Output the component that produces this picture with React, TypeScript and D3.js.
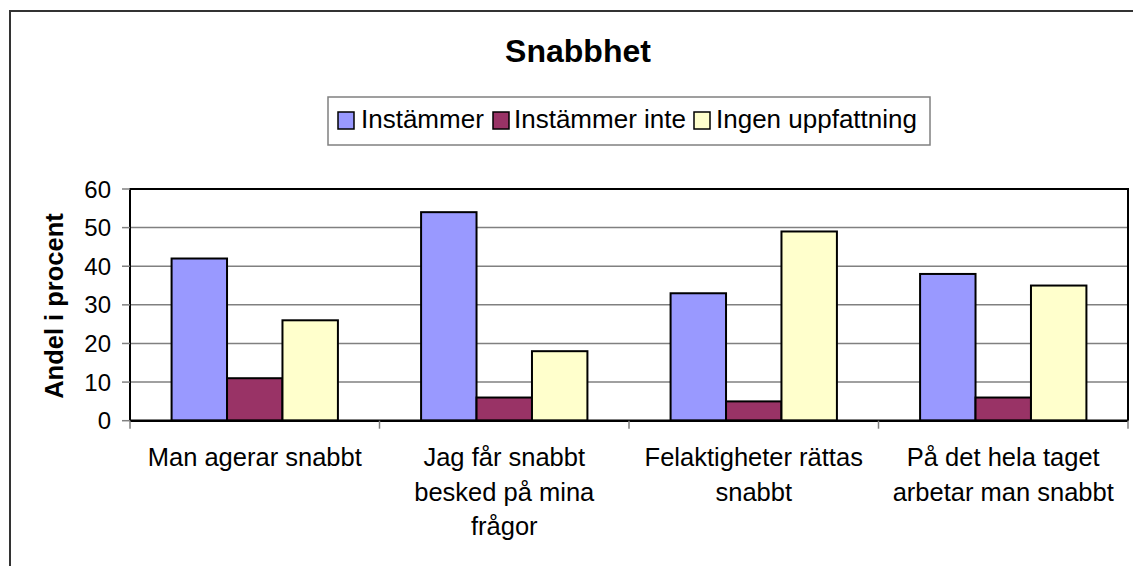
import React from 'react'
import * as d3 from 'd3'

const categories = [
  'Man agerar snabbt',
  'Jag får snabbt besked på mina frågor',
  'Felaktigheter rättas snabbt',
  'På det hela taget arbetar man snabbt',
]
// how the category labels wrap in the original
const categoryLines = [
  ['Man agerar snabbt'],
  ['Jag får snabbt', 'besked på mina', 'frågor'],
  ['Felaktigheter rättas', 'snabbt'],
  ['På det hela taget', 'arbetar man snabbt'],
]
const seriesNames = ['Instämmer', 'Instämmer inte', 'Ingen uppfattning']
const instammer = [42, 54, 33, 38]
const instammerInte = [11, 6, 5, 6]
const ingenUppfattning = [26, 18, 49, 35]
const yTicks = [0, 10, 20, 30, 40, 50, 60]

const colors = ['#9999ff', '#993366', '#ffffcc']
const font = '"Liberation Sans", Arial, sans-serif'

const W = 1133
const H = 566
const plot = { left: 130, right: 1128, top: 189, bottom: 420.7 }

const App = () => {
  const seriesValues = [instammer, instammerInte, ingenUppfattning]

  const x0 = d3.scaleBand<string>().domain(categories).range([plot.left, plot.right])
  const bw = x0.bandwidth()
  // excel style: gap width 150% -> bar = band / 4.5
  const x1 = d3.scaleBand<string>().domain(seriesNames).range([bw / 6, (bw * 5) / 6])
  const y = d3.scaleLinear().domain([0, 60]).range([plot.bottom, plot.top])

  const catTicks = categories.map((c) => x0(c) as number).concat([plot.right])

  // legend layout
  const legend = { x: 328, y: 97, w: 602, h: 48 }
  const legendItems = [
    { sw: 338, tx: 361 },
    { sw: 493, tx: 514 },
    { sw: 694, tx: 716 },
  ]

  return (
    <svg
      width={W}
      height={H}
      style={{ position: 'absolute', left: 0, top: 0, background: '#fff' }}
      fontFamily={font}
    >
      {/* outer chart frame */}
      <path d={`M10,${H} V11 H${W}`} fill="none" stroke="#333" strokeWidth={2} />

      <text x={578} y={62} textAnchor="middle" fontSize={32} fontWeight="bold" fill="#000">
        Snabbhet
      </text>

      {/* legend */}
      <rect x={legend.x} y={legend.y} width={legend.w} height={legend.h} fill="#fff" stroke="#808080" strokeWidth={1.5} />
      {seriesNames.map((name, i) => (
        <g key={name}>
          <rect x={legendItems[i].sw} y={112} width={16} height={17} fill={colors[i]} stroke="#000" strokeWidth={1.5} />
          <text x={legendItems[i].tx} y={128} fontSize={26} fill="#000">
            {name}
          </text>
        </g>
      ))}

      {/* gridlines */}
      {yTicks.slice(1, -1).map((t) => (
        <line key={t} x1={plot.left} x2={plot.right} y1={y(t)} y2={y(t)} stroke="#808080" strokeWidth={1.5} />
      ))}

      {/* bars */}
      {categories.map((c, ci) => (
        <g key={c} transform={`translate(${x0(c)},0)`}>
          {seriesNames.map((s, si) => (
            <rect
              key={s}
              x={x1(s)}
              y={y(seriesValues[si][ci])}
              width={x1.bandwidth()}
              height={plot.bottom - y(seriesValues[si][ci])}
              fill={colors[si]}
              stroke="#000"
              strokeWidth={2}
            />
          ))}
        </g>
      ))}

      {/* plot border + axes */}
      <path
        d={`M${plot.left},${plot.bottom} V${plot.top} H${plot.right} V${plot.bottom}`}
        fill="none"
        stroke="#000"
        strokeWidth={2}
      />
      <line x1={plot.left} x2={plot.right} y1={plot.bottom} y2={plot.bottom} stroke="#000" strokeWidth={2.5} />

      {yTicks.map((t) => (
        <g key={t}>
          <line x1={plot.left - 8} x2={plot.left} y1={y(t)} y2={y(t)} stroke="#808080" strokeWidth={1.5} />
          <text x={111} y={y(t)} dy="0.36em" textAnchor="end" fontSize={24} fill="#000">
            {t}
          </text>
        </g>
      ))}

      {catTicks.map((xv, i) => (
        <line key={i} x1={xv} x2={xv} y1={plot.bottom} y2={plot.bottom + 8} stroke="#808080" strokeWidth={1.5} />
      ))}

      {categories.map((c, ci) => (
        <text key={c} x={(x0(c) as number) + bw / 2} textAnchor="middle" fontSize={25.5} fill="#000">
          {categoryLines[ci].map((ln, li) => (
            <tspan key={li} x={(x0(c) as number) + bw / 2} y={466 + li * 34.5}>
              {ln}
            </tspan>
          ))}
        </text>
      ))}

      <text
        transform={`translate(63,306) rotate(-90)`}
        textAnchor="middle"
        fontSize={25.5}
        fontWeight="bold"
        fill="#000"
      >
        Andel i procent
      </text>
    </svg>
  )
}

export default App
